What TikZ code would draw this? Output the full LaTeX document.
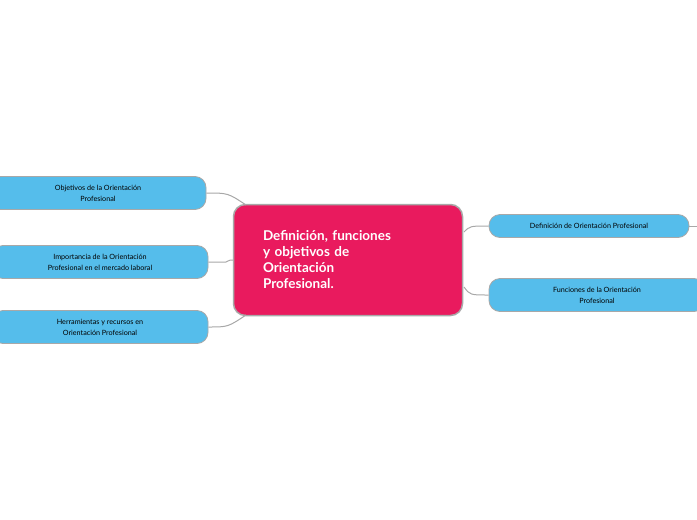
\documentclass[tikz,border=0pt]{standalone}
\usepackage{fontspec}
\setmainfont{Lato}
\usetikzlibrary{positioning}
\definecolor{topicpink}{HTML}{E91A5E}
\definecolor{subblue}{HTML}{55BDEB}
\definecolor{linegray}{HTML}{A8A8A8}

\begin{document}
\begin{tikzpicture}[
    x=1pt, y=-1pt,
    central/.style={rectangle, draw=linegray, line width=1.5pt, rounded corners=12pt, fill=topicpink, minimum width=229pt, minimum height=111pt, text=white, font=\fontsize{13.5}{16}\selectfont\bfseries, align=left, text width=170pt},
    subtopic/.style={rectangle, draw=linegray, line width=0.8pt, rounded corners=11pt, fill=subblue, minimum width=216pt, minimum height=33pt, font=\fontsize{7.2}{11}\selectfont, align=center},
    link/.style={draw=linegray, line width=1pt}
]
\useasboundingbox (0,0) rectangle (697,520);

% Central topic
\node[central] (DEF) at (348,260) {Definición, funciones\\y objetivos de\\Orientación\\Profesional.};

% Left subtopics
\node[subtopic] (OBJ) at (98,193) {Objetivos de la Orientación\\Profesional};
\node[subtopic] (IMP) at (100,262) {Importancia de la Orientación\\Profesional en el mercado laboral};
\node[subtopic] (HER) at (100,327) {Herramientas y recursos en\\Orientación Profesional};

% Right subtopics
\node[subtopic, minimum width=200pt, minimum height=23pt] (DOP) at (589,226) {Definición de Orientación Profesional};
\node[subtopic] (FUN) at (597,295) {Funciones de la Orientación\\Profesional};
\coordinate (DOPend) at (697,226);

% Connectors
\draw[link] (OBJ.east) .. controls (228,193) .. (246,205);
\draw[link] (IMP.east) -- (226,262) .. controls (230,260) .. (233,260);
\draw[link] (HER.east) .. controls (228,327) .. (246,315);
\draw[link] (464,232) .. controls (470,226) .. (DOP.west);
\draw[link] (464,287) .. controls (470,295) .. (FUN.west);
\draw[link] (DOP.east) -- (DOPend);
\end{tikzpicture}
\end{document}
